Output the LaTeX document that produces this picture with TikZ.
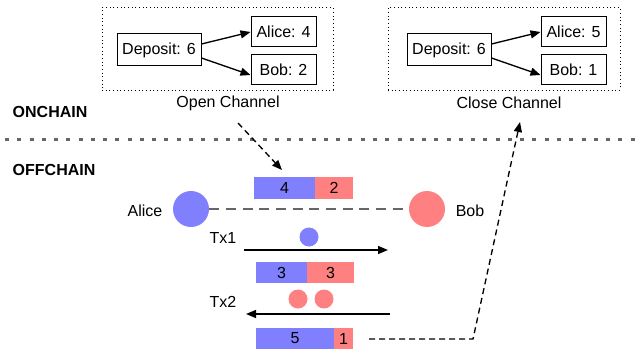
\documentclass[tikz,border=0pt]{standalone}
\usepackage{fontspec}
\setmainfont{Liberation Sans}
\usetikzlibrary{positioning}
\usetikzlibrary{arrows.meta}
\definecolor{azul}{HTML}{8080FF}
\definecolor{rojo}{HTML}{FF8080}
\definecolor{gris}{HTML}{666666}

\begin{document}
\begin{tikzpicture}[x=0.75pt, y=-0.75pt, font=\fontsize{12}{14}\selectfont,
    >={Triangle[length=7.5pt, width=6pt]},
    caja/.style={draw, line width=0.75pt, inner sep=0pt, minimum height=22.5pt},
    grupo/.style={draw, dotted, line width=0.75pt, inner sep=0pt},
    barra/.style={inner sep=0pt, minimum height=16pt},
    token/.style={circle, inner sep=0pt},
    punteado/.style={dash pattern=on 4.5pt off 3pt, line width=1pt}]
    \useasboundingbox (0,0) rectangle (642,353);

            % Onchain
            \node[grupo, minimum width=173.25pt, minimum height=61.5pt] (abrir) at (217.5,49) {};
            \node[grupo, minimum width=174pt, minimum height=61.5pt] (cerrar) at (504,49) {};
            \node[caja, minimum width=63pt, minimum height=24pt] (dep1) at (159,50) {Deposit: 6};
            \node[caja, minimum width=48.75pt] (alice1) at (283.5,32) {Alice: 4};
            \node[caja, minimum width=48.75pt] (bob1) at (283.5,70) {Bob: 2};
            \node[caja, minimum width=63pt, minimum height=24pt] (dep2) at (449,50) {Deposit: 6};
            \node[caja, minimum width=48.75pt] (alice2) at (573.5,32) {Alice: 5};
            \node[caja, minimum width=48.75pt] (bob2) at (573.5,70) {Bob: 1};
            \node (abrirtxt) at (228,103) {Open Channel};
            \node (cerrartxt) at (509,103) {Close Channel};
            \node[anchor=west, font=\fontsize{12}{14}\selectfont\bfseries] (on) at (8,112) {ONCHAIN};
            \node[anchor=west, font=\fontsize{12}{14}\selectfont\bfseries] (off) at (8,170) {OFFCHAIN};

            % Offchain
            \node[token, fill=azul, minimum size=27pt] (alice) at (191,209) {};
            \node[token, fill=rojo, minimum size=27pt] (bob) at (427,209) {};
            \node (alicetxt) at (145,211) {Alice};
            \node (bobtxt) at (470,211) {Bob};
            \node[barra, fill=azul, minimum width=45.75pt] (b1a) at (284.5,188) {4};
            \node[barra, fill=rojo, minimum width=28.5pt, anchor=west] (b1b) at ([xshift=-0.4pt]b1a.east) {2};
            \node (tx1) at (223,238) {Tx1};
            \node[token, fill=azul, minimum size=14.25pt] (m1) at (309,237) {};
            \node[barra, fill=azul, minimum width=38.25pt] (b2a) at (281.5,272.5) {3};
            \node[barra, fill=rojo, minimum width=35.25pt, anchor=west] (b2b) at ([xshift=-0.4pt]b2a.east) {3};
            \node (tx2) at (223,302) {Tx2};
            \node[token, fill=rojo, minimum size=14.25pt] (m2) at (298,299) {};
            \node[token, fill=rojo, minimum size=14.25pt] (m3) at (324,299) {};
            \node[barra, fill=azul, minimum width=58.5pt] (b3a) at (295,338.5) {5};
            \node[barra, fill=rojo, minimum width=14.25pt, anchor=west] (b3b) at ([xshift=-0.4pt]b3a.east) {1};

            \coordinate (sepini) at (5,139);
            \coordinate (sepfin) at (642,139);
            \coordinate (abririni) at (238,123);
            \coordinate (abrirfin) at (282,170);
            \coordinate (tx1ini) at (244,250);
            \coordinate (tx1fin) at (388,250);
            \coordinate (tx2ini) at (390,314);
            \coordinate (tx2fin) at (246,314);
            \coordinate (cierreini) at (369,339);
            \coordinate (esquina) at (473,339);
            \coordinate (cierrefin) at (520,122);

            % Flechas
            \draw[->, line width=1pt] ([yshift=4.5pt]dep1.east) -- (alice1.west);
            \draw[->, line width=1pt] ([yshift=-6pt]dep1.east) -- ([yshift=-3.75pt]bob1.west);
            \draw[->, line width=1pt] ([yshift=4.5pt]dep2.east) -- (alice2.west);
            \draw[->, line width=1pt] ([yshift=-6pt]dep2.east) -- ([yshift=-3.75pt]bob2.west);
            \draw[gris, line width=2.25pt, dash pattern=on 3pt off 6.2pt] (sepini) -- (sepfin);
            \draw[gris, line width=2pt, dash pattern=on 7.5pt off 5pt] (alice) -- (bob);
            \draw[->, punteado] (abririni) -- (abrirfin);
            \draw[->, line width=1pt] (tx1ini) -- (tx1fin);
            \draw[->, line width=1pt] (tx2ini) -- (tx2fin);
            \draw[->, punteado] (cierreini) -- (esquina) -- (cierrefin);
          \end{tikzpicture}
\end{document}
